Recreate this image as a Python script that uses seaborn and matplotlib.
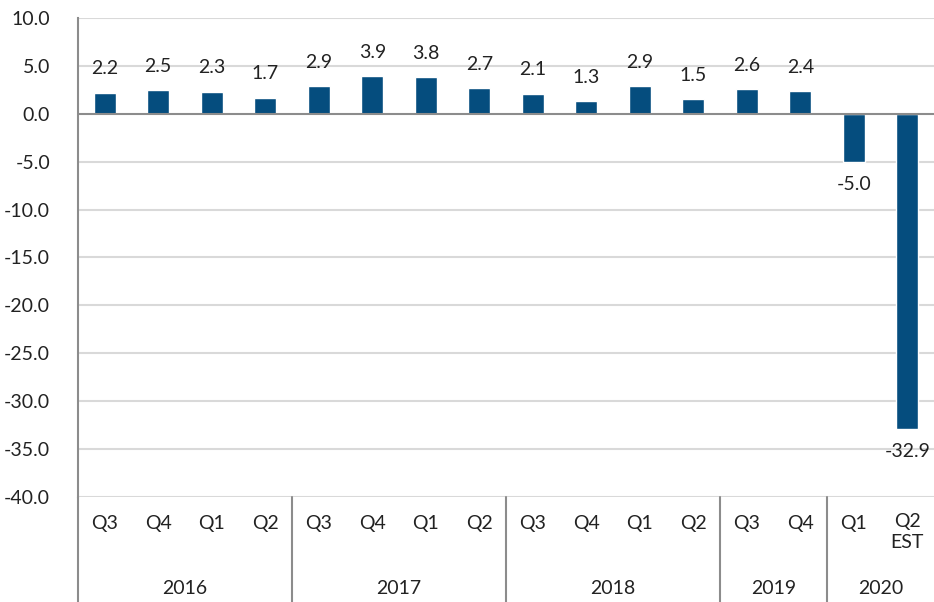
import matplotlib
matplotlib.use("Agg")
import matplotlib.pyplot as plt
import matplotlib.transforms as mtransforms
import seaborn as sns
import pandas as pd

quarters = ["Q3", "Q4", "Q1", "Q2", "Q3", "Q4", "Q1", "Q2",
            "Q3", "Q4", "Q1", "Q2", "Q3", "Q4", "Q1", "Q2\nEST"]
years = ["2016", "2017", "2018", "2019", "2020"]
year_counts = [4, 4, 4, 2, 2]
values = [2.2, 2.5, 2.3, 1.7, 2.9, 3.9, 3.8, 2.7,
          2.1, 1.3, 2.9, 1.5, 2.6, 2.4, -5.0, -32.9]
yticks = [10, 5, 0, -5, -10, -15, -20, -25, -30, -35, -40]

sns.set_theme(style="white")
plt.rcParams['font.family'] = ['Lato', 'DejaVu Sans']

df = pd.DataFrame({"idx": [str(i) for i in range(len(values))], "value": values})

fig = plt.figure(figsize=(9.34, 6.02), dpi=100)
W, H = 934, 602
ax = fig.add_axes([78 / W, (H - 497) / H, (934 - 78) / W, (497 - 18) / H])

sns.barplot(data=df, x="idx", y="value", color="#054D7E", width=0.41,
            saturation=1, ax=ax, zorder=3)

ax.set_xlim(-0.5, len(values) - 0.5)
ax.set_ylim(-40, 10)
ax.set_yticks(yticks)
ax.set_yticklabels([f"{t:.1f}" for t in yticks], fontsize=14, color="#222222")
ax.tick_params(axis="y", length=0, pad=20)
ax.tick_params(axis="x", length=0, labelbottom=False)
ax.set_xlabel("")
ax.set_ylabel("")

for s in ["top", "right", "bottom"]:
    ax.spines[s].set_visible(False)
ax.spines["left"].set_color("#8c8c8c")
ax.spines["left"].set_linewidth(1.5)

for t in yticks:
    if t != 0:
        ax.axhline(t, color="#d9d9d9", lw=1.5, zorder=1)
ax.axhline(0, color="#8c8c8c", lw=1.5, zorder=4)

# value labels
for i, v in enumerate(values):
    if v >= 0:
        ax.annotate(f"{v:.1f}", (i, v), xytext=(0, 11), textcoords="offset points",
                    ha="center", va="bottom", fontsize=14, color="#222222")
    else:
        ax.annotate(f"{v:.1f}", (i, v), xytext=(0, -10), textcoords="offset points",
                    ha="center", va="top", fontsize=14, color="#222222")

trans = mtransforms.blended_transform_factory(ax.transData, ax.transAxes)
ph = 497 - 18
# quarter labels
for i, q in enumerate(quarters):
    if "\n" not in q:
        ax.text(i, -(523 - 497) / ph, q, transform=trans, ha="center", va="center",
                fontsize=14, color="#222222")
    else:
        ax.text(i, -(513 - 497) / ph, q, transform=trans, ha="center", va="top",
                fontsize=14, color="#222222", linespacing=1.3)

# year labels and separators
bottom_frac = -(602 - 497) / ph
ax.plot([-0.5, -0.5], [0, bottom_frac], transform=trans, color="#8c8c8c",
        lw=1.5, clip_on=False)
start = 0
for y, c in zip(years, year_counts):
    center = start + (c - 1) / 2
    ax.text(center, -(588 - 497) / ph, y, transform=trans, ha="center", va="center",
            fontsize=14, color="#222222")
    end = start + c
    if end < len(values):
        ax.plot([end - 0.5, end - 0.5], [0, bottom_frac], transform=trans,
                color="#8c8c8c", lw=1.5, clip_on=False)
    start = end

fig.savefig("out.png", dpi=100)
